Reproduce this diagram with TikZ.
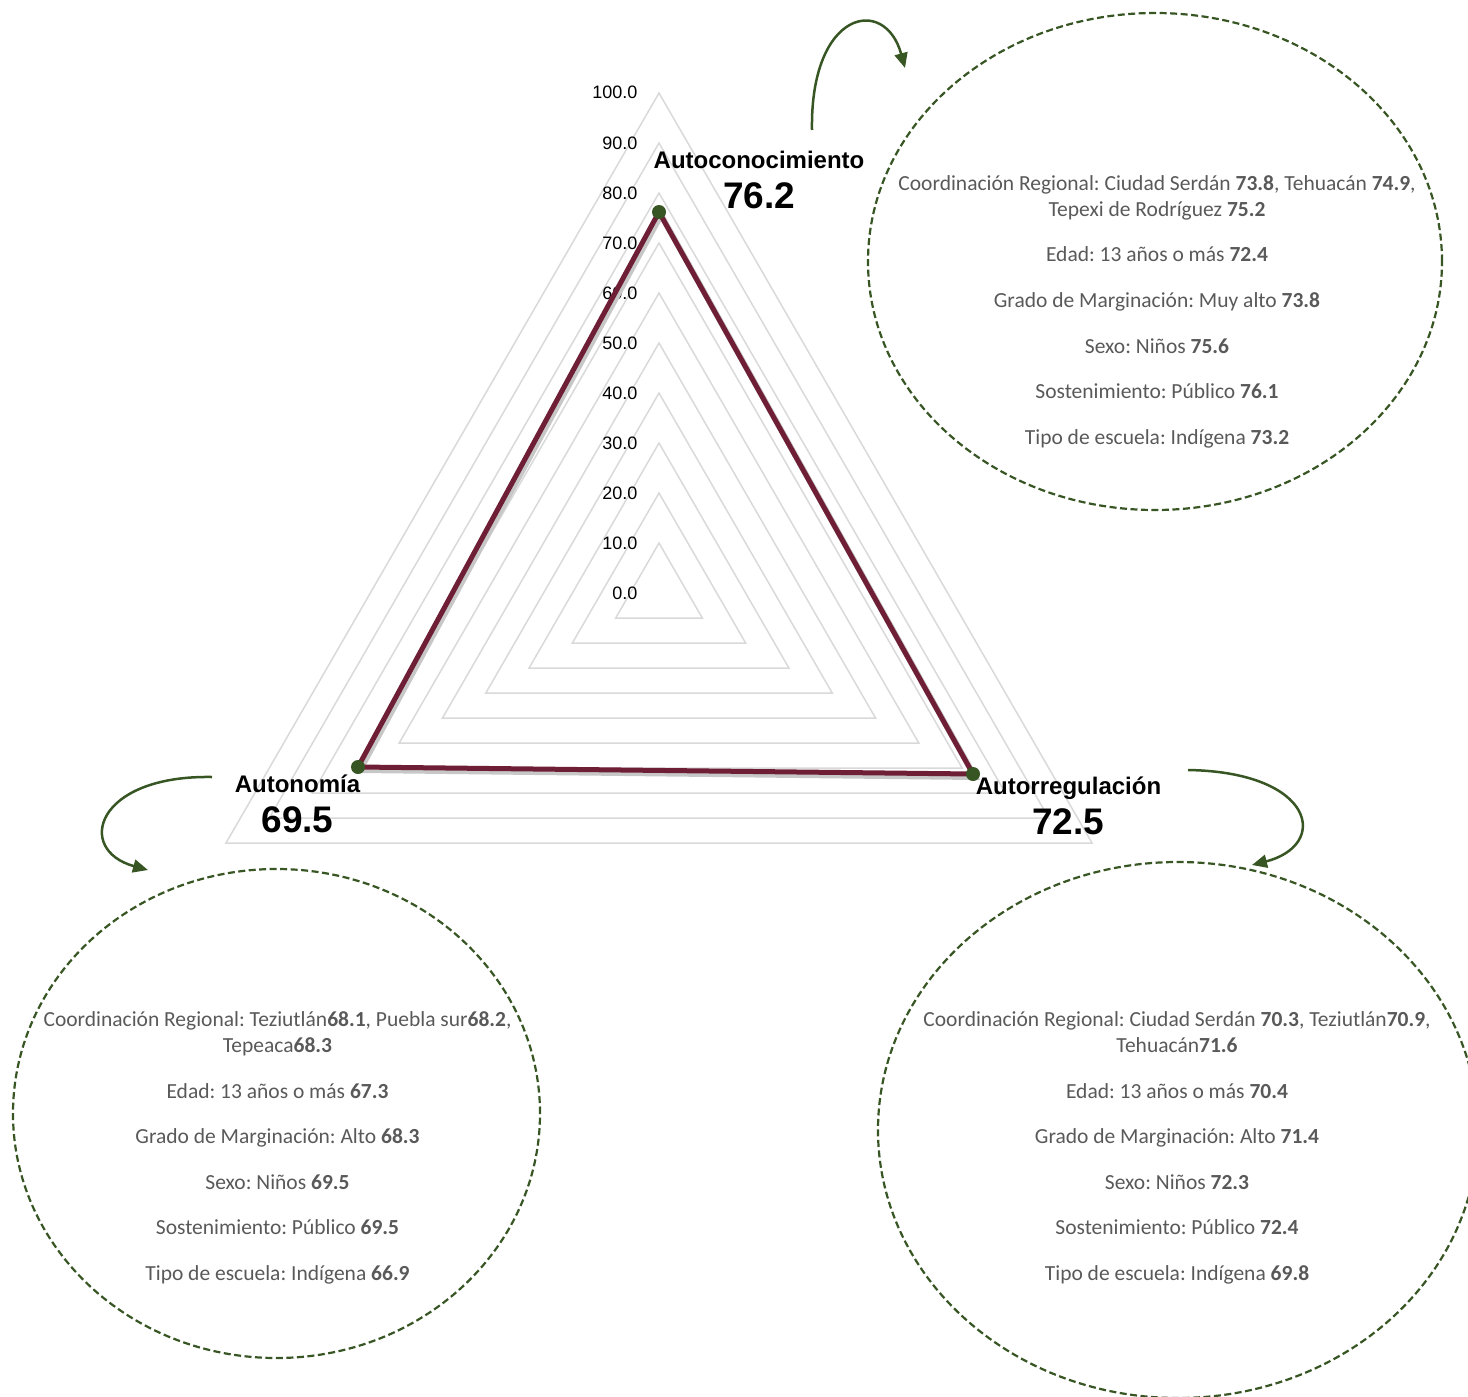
\documentclass[tikz,border=0pt]{standalone}
\usepackage{fontspec}
\setmainfont{Carlito}
\newfontfamily\arialf{Liberation Sans}
\usetikzlibrary{arrows.meta,shapes.geometric}
\definecolor{gridgray}{HTML}{D9D9D9}
\definecolor{serie}{HTML}{6E1F36}
\definecolor{dgreen}{HTML}{375623}
\definecolor{txtgray}{HTML}{595959}
\frenchspacing
\begin{document}
\begin{tikzpicture}[x=1pt,y=-1pt,
  gridline/.style={draw=gridgray,line width=1.5pt,line join=miter},
  axislbl/.style={font=\arialf\fontsize{18}{20}\selectfont,anchor=base east,inner sep=0pt},
  catlbl/.style={font=\arialf\bfseries\fontsize{24}{28}\selectfont,anchor=base,inner sep=0pt},
  catval/.style={font=\arialf\bfseries\fontsize{37}{42}\selectfont,anchor=base,inner sep=0pt},
  marker/.style={circle,fill=dgreen,inner sep=0pt,minimum size=14pt},
  serieline/.style={draw=serie,line width=5pt,line join=miter},
  shadowline/.style={draw=black!22,line width=6pt,line join=miter},
  bubble/.style={ellipse,draw=dgreen,line width=2.2pt,dash pattern=on 7pt off 3.5pt,inner sep=0pt},
  etxt/.style={font=\fontsize{21.5}{25}\selectfont,text=txtgray,anchor=base,inner sep=0pt},
  conn/.style={draw=dgreen,line width=2.5pt,-{Triangle[length=15pt,width=13pt]}}]
\useasboundingbox (0,0) rectangle (1468,1397);
% grid rings
\foreach \r in {1,...,10}{
  \draw[gridline] (659,{593-50*\r}) -- ({659+43.30127*\r},{593+25*\r}) -- ({659-43.30127*\r},{593+25*\r}) -- cycle;
}
% axis labels
\foreach \v [count=\i from 0] in {0.0,10.0,20.0,30.0,40.0,50.0,60.0,70.0,80.0,90.0,100.0}{
  \node[axislbl] (ax\i) at (637.5,{599-50*\i}) {\v};
}
% data points
\coordinate (pA) at (659,212);
\coordinate (pB) at (973,774);
\coordinate (pC) at (358,767);
\draw[shadowline] ([shift={(2,3)}]pA) -- ([shift={(2,3)}]pB) -- ([shift={(2,3)}]pC) -- cycle;
\draw[serieline] (pA) -- (pB) -- (pC) -- cycle;
\node[marker] (mA) at (pA) {};
\node[marker] (mB) at (pB) {};
\node[marker] (mC) at (pC) {};
% category labels
\node[catlbl] (cA) at (759,168) {Autoconocimiento};
\node[catval] (vA) at (759,208) {76.2};
\node[catlbl] (cC) at (297.5,792) {Autonomía};
\node[catval] (vC) at (297.5,832) {69.5};
\node[catlbl] (cB) at (1068.5,794) {Autorregulación};
\node[catval] (vB) at (1068,834) {72.5};
% bubbles
\node[bubble,minimum width=574pt,minimum height=497pt] (eA) at (1155,261.5) {};
\node[bubble,minimum width=527pt,minimum height=489pt] (eC) at (276.5,1113.5) {};
\node[bubble,minimum width=600pt,minimum height=536pt] (eB) at (1178,1130) {};
% bubble texts top right
\node[etxt] (tA1) at (1157,190) {Coordinación Regional: Ciudad Serdán \textbf{73.8}, Tehuacán \textbf{74.9},};
\node[etxt] (tA2) at (1157,216) {Tepexi de Rodríguez \textbf{75.2}};
\node[etxt] (tA3) at (1157,261) {Edad: 13 años o más \textbf{72.4}};
\node[etxt] (tA4) at (1157,307) {Grado de Marginación: Muy alto \textbf{73.8}};
\node[etxt] (tA5) at (1157,353) {Sexo: Niños \textbf{75.6}};
\node[etxt] (tA6) at (1157,398) {Sostenimiento: Público \textbf{76.1}};
\node[etxt] (tA7) at (1157,444) {Tipo de escuela: Indígena \textbf{73.2}};
% bubble texts bottom left
\node[etxt] (tC1) at (277.5,1026) {Coordinación Regional: Teziutlán\textbf{68.1}, Puebla sur\textbf{68.2},};
\node[etxt] (tC2) at (277.5,1052) {Tepeaca\textbf{68.3}};
\node[etxt] (tC3) at (277.5,1098) {Edad: 13 años o más \textbf{67.3}};
\node[etxt] (tC4) at (277.5,1143) {Grado de Marginación: Alto \textbf{68.3}};
\node[etxt] (tC5) at (277.5,1189) {Sexo: Niños \textbf{69.5}};
\node[etxt] (tC6) at (277.5,1234) {Sostenimiento: Público \textbf{69.5}};
\node[etxt] (tC7) at (277.5,1280) {Tipo de escuela: Indígena \textbf{66.9}};
% bubble texts bottom right
\node[etxt] (tB1) at (1177,1026) {Coordinación Regional: Ciudad Serdán \textbf{70.3}, Teziutlán\textbf{70.9},};
\node[etxt] (tB2) at (1177,1052) {Tehuacán\textbf{71.6}};
\node[etxt] (tB3) at (1177,1098) {Edad: 13 años o más \textbf{70.4}};
\node[etxt] (tB4) at (1177,1143) {Grado de Marginación: Alto \textbf{71.4}};
\node[etxt] (tB5) at (1177,1189) {Sexo: Niños \textbf{72.3}};
\node[etxt] (tB6) at (1177,1234) {Sostenimiento: Público \textbf{72.4}};
\node[etxt] (tB7) at (1177,1280) {Tipo de escuela: Indígena \textbf{69.8}};
% connectors
\coordinate (sA) at (812,130);
\coordinate (eAe) at (905,68);
\draw[conn] (sA) .. controls (810,10) and (885,-5) .. (eAe);
\coordinate (sC) at (212,777);
\coordinate (eCe) at (148,870);
\draw[conn] (sC) .. controls (95,775) and (75,850) .. (eCe);
\coordinate (sB) at (1188,770);
\coordinate (eBe) at (1252,865);
\draw[conn] (sB) .. controls (1315,772) and (1330,845) .. (eBe);
\end{tikzpicture}
\end{document}
